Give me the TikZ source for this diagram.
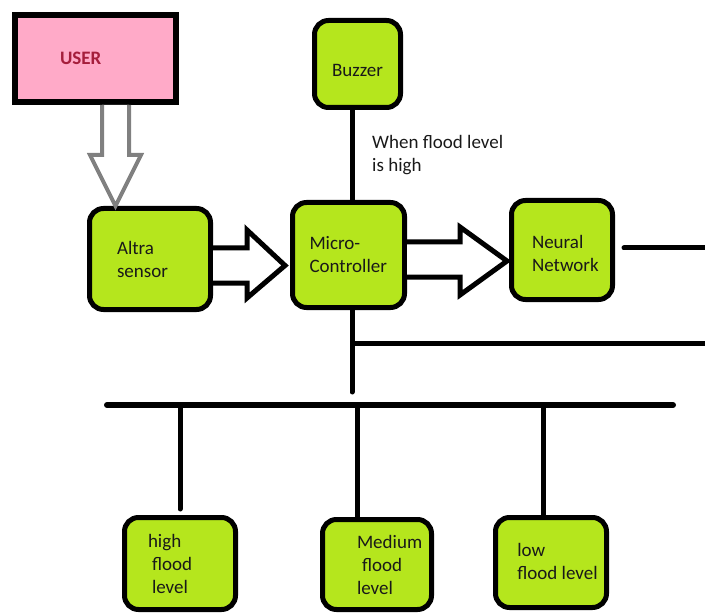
\documentclass[tikz,border=0pt]{standalone}
\usepackage{fontspec}
\setmainfont{Carlito}
\usetikzlibrary{calc}
\definecolor{boxgreen}{RGB}{181,230,29}
\definecolor{userpink}{RGB}{255,170,200}
\definecolor{userred}{RGB}{165,30,60}
\definecolor{txtdark}{RGB}{25,25,25}
\definecolor{arrgray}{RGB}{128,128,128}
\newcommand{\lowertext}[2]{\raisebox{-#1}[\height][\depth]{\begin{tabular}{@{}l@{}}#2\end{tabular}}}
\begin{document}
\begin{tikzpicture}[x=1pt,y=-1pt,
  gbox/.style={draw=black, line width=5pt, fill=boxgreen, rounded corners=14pt,
    inner sep=0pt, align=left, text=txtdark, font=\fontsize{19}{23}\selectfont},
  ubox/.style={draw=black, line width=6pt, fill=userpink, inner sep=0pt,
    align=left, text=userred, font=\fontsize{19}{23}\selectfont\bfseries},
  conn/.style={line width=5pt, line cap=round},
  bus/.style={line width=6pt, line cap=round},
  hollow/.style={draw=black, fill=white, line width=5pt, line join=miter},
  grayhollow/.style={draw=arrgray, fill=white, line width=4pt, line join=miter},
  lbl/.style={inner sep=0pt, align=left, text=txtdark, font=\fontsize{19}{23}\selectfont}]
\useasboundingbox (0,0) rectangle (705,615);

% nodes
\node[ubox, minimum width=161pt, minimum height=87pt, text width=71pt] (user) at (95.5,58.5) {USER};
\node[gbox, minimum width=121pt, minimum height=101pt, text width=66pt] (altra) at (150,259) {Altra\\sensor};
\node[gbox, minimum width=112pt, minimum height=105pt, text width=78pt] (micro) at (348.5,255) {Micro-\\Controller};
\node[gbox, minimum width=86pt, minimum height=87pt, align=center] (buzzer) at (357.5,64) {\raisebox{-6pt}[\height][\depth]{Buzzer}};
\node[gbox, minimum width=101pt, minimum height=99pt, text width=60pt] (neural) at (562,250) {\lowertext{5pt}{Neural\\Network}};
\node[gbox, minimum width=111pt, minimum height=92pt, text width=64pt] (high) at (180,563.5) {high\\\hspace*{4pt}flood\\\hspace*{4pt}level};
\node[gbox, minimum width=109pt, minimum height=90pt, text width=40pt] (medium) at (377,564.5) {Medium\\\hspace*{5pt}flood\\level};
\node[gbox, minimum width=111pt, minimum height=90pt] (low) at (551,562.5) {\raisebox{-1pt}[\height][\depth]{\begin{tabular}{@{\hspace{13pt}}l@{}}low\\flood level\end{tabular}}};

\node[lbl, anchor=north west] (cond) at (372,135) {When flood level\\is high};

% gray hollow arrow USER -> Altra
\draw[grayhollow] ($(user.south)+(6.5,0)$) -- (102,155) -- (90,155) -- (altra.north -| 115.5,0)
  -- (141,155) -- (129,155) -- ($(user.south)+(33.5,0)$);

% hollow arrow Altra -> Micro
\draw[hollow] ($(altra.east)+(0,-11)$) -- (247,248) -- (247,230) -- ($(micro.west)+(-5,10.5)$)
  -- (247,298) -- (247,283) -- ($(altra.east)+(0,24)$);

% hollow arrow Micro -> Neural
\draw[hollow] ($(micro.east)+(0,-13)$) -- (460,242) -- (460,227) -- ($(neural.west)+(-2,11)$)
  -- (460,295) -- (460,277) -- ($(micro.east)+(0,22)$);

% connectors
\coordinate (nnEnd) at (705,248);
\coordinate (mcEnd) at (352,392);
\coordinate (hStart) at (352,343);
\coordinate (hEnd) at (705,343);
\coordinate (busL) at (107,405);
\coordinate (busR) at (673,405);
\coordinate (d1) at (180,405);
\coordinate (d2) at (357,405);
\coordinate (d3) at (543,405);

\draw[conn] (buzzer.south -| 352,0) -- (micro.north -| 352,0);
\draw[conn] ($(neural.east)+(9,-2)$) -- (nnEnd);
\draw[conn] (micro.south -| mcEnd) -- (mcEnd);
\draw[conn, line cap=butt] (hStart) -- (hEnd);
\draw[bus] (busL) -- (busR);
\draw[conn] (d1) -- ($(d1 |- high.north)+(0,-6)$);
\draw[conn] (d2) -- (d2 |- medium.north);
\draw[conn] (d3) -- (d3 |- low.north);
\end{tikzpicture}
\end{document}
